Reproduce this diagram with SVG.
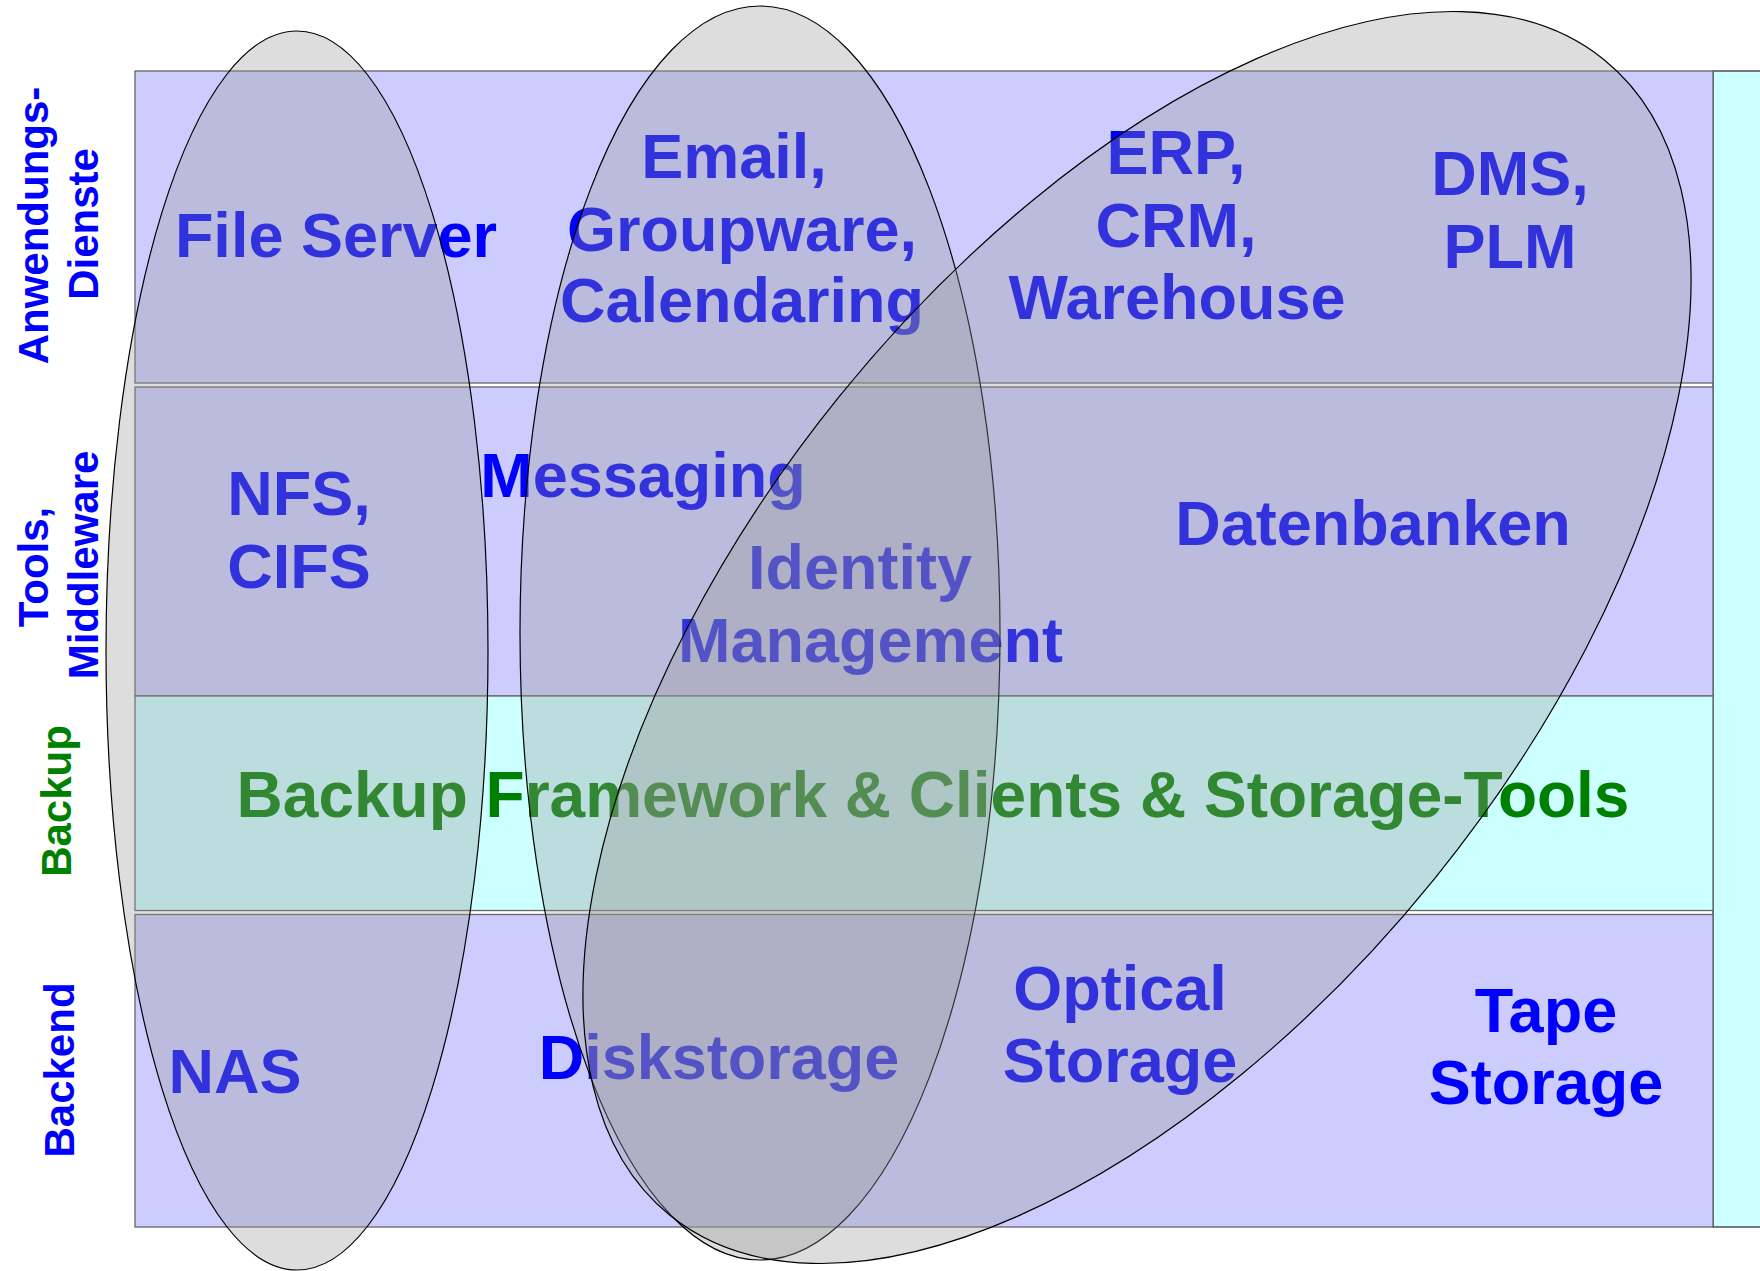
<svg xmlns="http://www.w3.org/2000/svg" width="1760" height="1271" viewBox="0 0 1760 1271">
<style>
.row{fill:#ccccff;stroke:#666666;stroke-width:1.3}
.bk{fill:#ccffff;stroke:#666666;stroke-width:1.3}
.t{font-family:"Liberation Sans",Arial,sans-serif;font-weight:bold;font-size:63px;fill:#0000ff;text-anchor:middle}
.g{fill:#008000}
.side{font-family:"Liberation Sans",Arial,sans-serif;font-weight:bold;font-size:42px;fill:#0000ff;text-anchor:middle}
.ell{fill:#999999;fill-opacity:0.33;stroke:#000000;stroke-width:1.2}
</style>
<rect width="1760" height="1271" fill="#ffffff"/>
<g id="strip"><rect x="1713" y="71" width="60" height="1156" fill="#ccffff" stroke="#333333" stroke-width="1.3"/></g>
<g id="row-anwendung">
<rect class="row" x="135" y="71" width="1578" height="312"/>
<text class="side" transform="translate(48,225.5) rotate(-90)">Anwendungs-</text>
<text class="side" transform="translate(97.5,224) rotate(-90)">Dienste</text>
</g>
<g id="row-tools">
<rect class="row" x="135" y="387" width="1578" height="309"/>
<text class="side" transform="translate(48,567) rotate(-90)">Tools,</text>
<text class="side" transform="translate(97.5,565) rotate(-90)">Middleware</text>
</g>
<g id="row-backup">
<rect class="bk" x="135" y="696" width="1578" height="214.5"/>
<text class="side" style="fill:#008000" transform="translate(71,801) rotate(-90)">Backup</text>
</g>
<g id="row-backend">
<rect class="row" x="135" y="914.5" width="1578" height="312.5"/>
<text class="side" transform="translate(74,1070) rotate(-90)">Backend</text>
</g>
<g id="file-server"><text class="t" x="336" y="257">File Server</text></g>
<g id="email"><text class="t" x="734" y="178">Email,</text><text class="t" x="742" y="250.5">Groupware,</text><text class="t" x="742" y="322">Calendaring</text></g>
<g id="erp"><text class="t" x="1176" y="174">ERP,</text><text class="t" x="1176" y="246.5">CRM,</text><text class="t" x="1177" y="319">Warehouse</text></g>
<g id="dms"><text class="t" x="1510" y="195">DMS,</text><text class="t" x="1510" y="268">PLM</text></g>
<g id="nfs"><text class="t" x="299" y="515">NFS,</text><text class="t" x="299" y="588">CIFS</text></g>
<g id="messaging"><text class="t" x="643" y="497">Messaging</text></g>
<g id="identity"><text class="t" x="860" y="589">Identity</text><text class="t" x="870.5" y="661.5">Management</text></g>
<g id="datenbanken"><text class="t" x="1373" y="545">Datenbanken</text></g>
<g id="backup-fw"><text class="t g" style="font-size:64px" x="933" y="817">Backup Framework &amp; Clients &amp; Storage-Tools</text></g>
<g id="nas"><text class="t" x="235" y="1093">NAS</text></g>
<g id="diskstorage"><text class="t" x="719" y="1079">Diskstorage</text></g>
<g id="optical"><text class="t" x="1120" y="1010">Optical</text><text class="t" x="1120" y="1082">Storage</text></g>
<g id="tape"><text class="t" x="1546" y="1032">Tape</text><text class="t" x="1546" y="1104">Storage</text></g>
<g id="groupings">
<ellipse class="ell" cx="297" cy="650.5" rx="191" ry="619.5"/>
<ellipse class="ell" cx="760" cy="633" rx="240" ry="627"/>
<ellipse class="ell" cx="1137" cy="637.5" rx="743" ry="383" transform="rotate(-51.05 1137 637.5)"/>
</g>
<g id="connectors"/>
</svg>
